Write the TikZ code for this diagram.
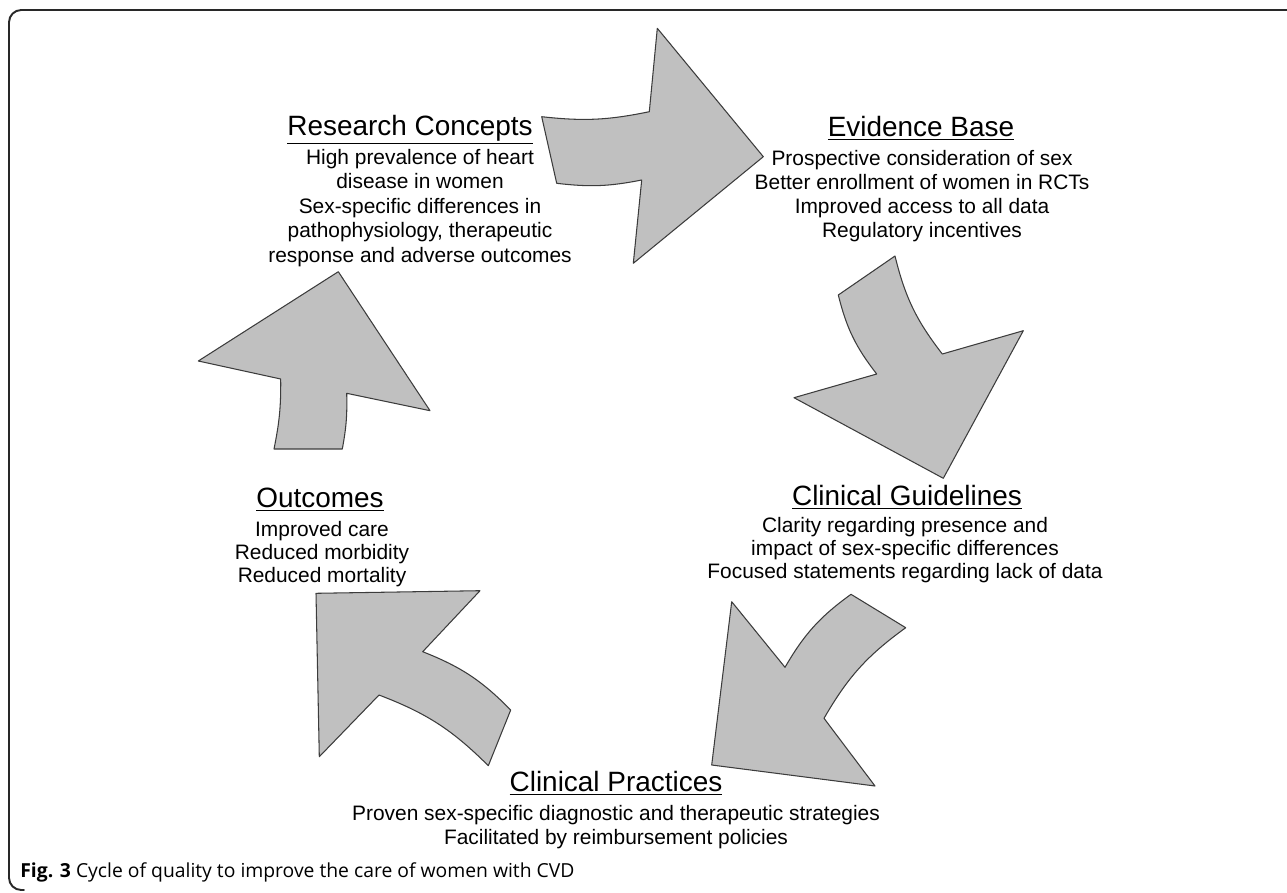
\documentclass[tikz,border=0pt]{standalone}
\usepackage{fontspec}
\setmainfont{Liberation Sans}
\newfontfamily\capfont{Open Sans}
\usepackage{tikz}
\definecolor{arrowgray}{RGB}{192,192,192}
\definecolor{edgegray}{RGB}{60,60,60}
\definecolor{framegray}{RGB}{40,40,40}
\usetikzlibrary{positioning}
\tikzset{
    bigarrow/.style = {fill=arrowgray, draw=edgegray, line width=0.6pt},
    heading/.style = {font=\fontsize{15.9}{18}\selectfont, inner sep=0pt},
    body/.style = {font=\fontsize{11.9}{#1}\selectfont, align=center, inner sep=0pt},
    body/.default = 13.6
}

\begin{document}
\begin{tikzpicture}[x=0.02cm, y=-0.02cm, line cap=round, line join=round]
	\useasboundingbox (0,0) rectangle (1287,892);
	\draw [framegray, line width=1.1pt, rounded corners=7pt] (1287,10) -- (9,10) -- (9,890) -- (24,890);
	% arrows of the cycle
	\draw [bigarrow] (541.7,116.7) to[bend right=9] (649.3,111.7) -- (657.3,28.3) -- (763.3,156.7) -- (633.3,263.3) -- (641.7,180) to[bend left=9] (556.7,183.3) -- cycle;
	\draw [bigarrow] (895,256) to[bend right=12] (942.3,354) -- (1023.3,330.7) -- (943.3,478.3) -- (794,397.7) -- (876.7,374) to[bend left=12] (838.3,295) -- cycle;
	\draw [bigarrow] (905.7,627.7) to[bend right=12] (824,718.3) -- (875,786) -- (711.7,765) -- (731.7,601.7) -- (785,667.3) to[bend left=12] (851,594.3) -- cycle;
	\draw [bigarrow] (488.3,765.7) to[bend right=12] (379,695) -- (319.3,756.7) -- (316,593.3) -- (480,590.7) -- (422.7,651.7) to[bend left=12] (510.7,710) -- cycle;
	\draw [bigarrow] (274,449) to[bend right=6] (280.7,379) -- (198.3,361) -- (338.3,271.7) -- (430,410.7) -- (346.7,393.3) to[bend left=6] (342.3,449) -- cycle;
	% texts
	\node [heading] (research) at (410,130) {\underline{Research Concepts}};
	\node [body=13.9] (researchtext) at (420,208) {High prevalence of heart\\disease in women\\Sex-specific differences in\\pathophysiology, therapeutic\\response and adverse outcomes};
	\node [heading] (evidence) at (921,128) {\underline{Evidence Base}};
	\node [body] (evidencetext) at (922,196) {Prospective consideration of sex\\Better enrollment of women in RCTs\\Improved access to all data\\Regulatory incentives};
	\node [heading] (guidelines) at (907,497) {\underline{Clinical Guidelines}};
	\node [body=13] (guidelinestext) at (905,550) {Clarity regarding presence and\\impact of sex-specific differences\\Focused statements regarding lack of data};
	\node [heading] (practices) at (616,783) {\underline{Clinical Practices}};
	\node [body] (practicestext) at (616,827) {Proven sex-specific diagnostic and therapeutic strategies\\Facilitated by reimbursement policies};
	\node [heading] (outcomes) at (320,500) {\underline{Outcomes}};
	\node [body=13.3] (outcomestext) at (322,554) {Improved care\\Reduced morbidity\\Reduced mortality};
	\node [anchor=west, font=\capfont\fontsize{11}{13}\selectfont, inner sep=0pt] (caption) at (20,872) {\textbf{Fig. 3} Cycle of quality to improve the care of women with CVD};
\end{tikzpicture}
\end{document}
